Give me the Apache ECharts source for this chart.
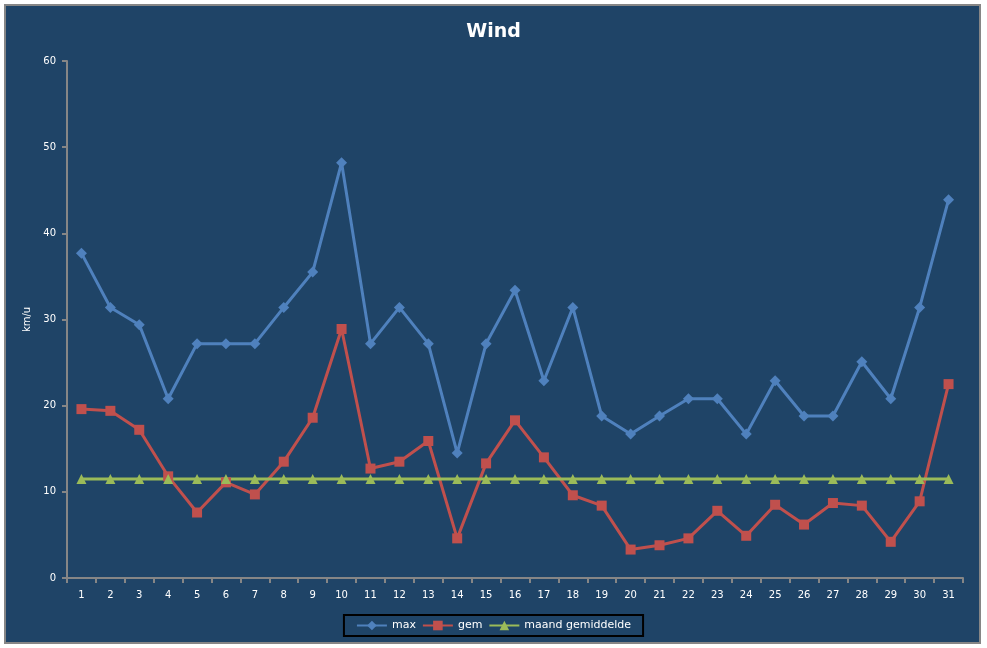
<!DOCTYPE html>
<html><head><meta charset="utf-8">
<script src="https://cdn.jsdelivr.net/npm/echarts@6/dist/echarts.min.js"></script>
<style>html,body{margin:0;padding:0;background:#fff}#main{width:987px;height:648px}</style>
</head><body><div id="main"></div>
<script>
const days = ['1','2','3','4','5','6','7','8','9','10','11','12','13','14','15','16','17','18','19','20','21','22','23','24','25','26','27','28','29','30','31'];
const maxWind = [37.7,31.4,29.4,20.8,27.2,27.2,27.2,31.4,35.5,48.2,27.2,31.4,27.2,14.5,27.2,33.4,22.9,31.4,18.8,16.7,18.8,20.8,20.8,16.7,22.9,18.8,18.8,25.1,20.8,31.4,43.9];
const gemWind = [19.6,19.4,17.2,11.8,7.6,11.1,9.7,13.5,18.6,28.9,12.7,13.5,15.9,4.6,13.3,18.3,14.0,9.6,8.4,3.3,3.8,4.6,7.8,4.9,8.5,6.2,8.7,8.4,4.2,8.9,22.5];
const maandGem = days.map(() => 11.5);
const seriesNames = ['max','gem','maand gemiddelde'];

const chart = echarts.init(document.getElementById('main'));
const font = 'DejaVu Sans, Tahoma, sans-serif';
chart.setOption({
  backgroundColor: '#ffffff',
  animation: false,
  textStyle: {fontFamily: font},
  graphic: [{
    type: 'rect', z: -10, silent: true,
    shape: {x: 5, y: 5, width: 975, height: 638},
    style: {fill: '#1F4467', stroke: '#868686', lineWidth: 2}
  }],
  title: {
    text: 'Wind', left: 'center', top: 18,
    textStyle: {color: '#ffffff', fontSize: 19, fontWeight: 'bold', fontFamily: font}
  },
  legend: {
    data: seriesNames, bottom: 12, left: 'center',
    borderColor: '#000000', borderWidth: 2, padding: [5, 12, 5, 12],
    itemWidth: 30, itemHeight: 12, itemGap: 6,
    textStyle: {color: '#ffffff', fontSize: 11, fontFamily: font}
  },
  grid: {left: 67, right: 24, top: 61, bottom: 70},
  xAxis: {
    type: 'category', data: days, boundaryGap: true,
    axisLine: {lineStyle: {color: '#868686', width: 2}},
    axisTick: {show: true, length: 5, lineStyle: {color: '#868686', width: 2}},
    axisLabel: {color: '#ffffff', fontSize: 10, margin: 12, fontFamily: font, interval: 0}
  },
  yAxis: {
    type: 'value', min: 0, max: 60, interval: 10,
    name: 'km/u', nameLocation: 'middle', nameGap: 30, nameRotate: 90,
    nameTextStyle: {color: '#ffffff', fontSize: 10, fontFamily: font},
    axisLine: {show: true, lineStyle: {color: '#868686', width: 2}},
    axisTick: {show: true, length: 5, lineStyle: {color: '#868686', width: 2}},
    axisLabel: {color: '#ffffff', fontSize: 10, margin: 11, fontFamily: font},
    splitLine: {show: false}
  },
  series: [
    {name: 'max', type: 'line', data: maxWind, symbol: 'diamond', symbolSize: 11,
     itemStyle: {color: '#4F81BD'}, lineStyle: {color: '#4F81BD', width: 3}},
    {name: 'gem', type: 'line', data: gemWind, symbol: 'rect', symbolSize: 10,
     itemStyle: {color: '#C0504D'}, lineStyle: {color: '#C0504D', width: 3}},
    {name: 'maand gemiddelde', type: 'line', data: maandGem, symbol: 'triangle', symbolSize: 10,
     itemStyle: {color: '#9BBB59'}, lineStyle: {color: '#9BBB59', width: 3}}
  ]
});
</script></body></html>
